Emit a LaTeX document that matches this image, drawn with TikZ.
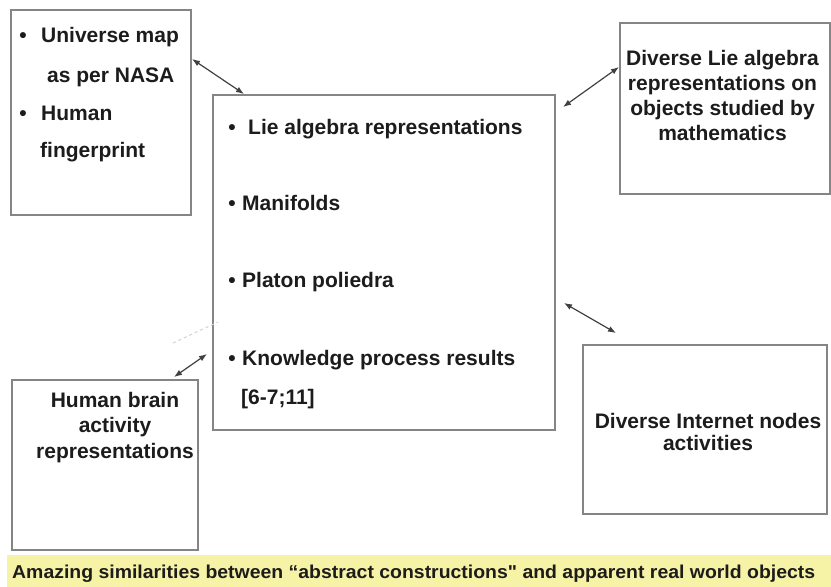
\documentclass[tikz,border=0pt]{standalone}
\usepackage{fontspec}
\setmainfont{Liberation Sans}
\newfontfamily\capfont{Liberation Sans}[Ligatures=TeXOff]
\usetikzlibrary{arrows.meta,positioning,calc}
\definecolor{cbox}{HTML}{858585}
\definecolor{cink}{HTML}{1C1C1C}
\definecolor{cband}{HTML}{F6F2A6}
\tikzset{
  box/.style={draw=cbox, line width=2pt, inner sep=0pt, fill=white},
  txt/.style={font=\fontsize{21}{25}\selectfont\bfseries, text=cink, inner sep=0pt},
  link/.style={{Latex[length=8pt,width=6pt]}-{Latex[length=8pt,width=6pt]}, line width=1.2pt, draw=black!75},
  band/.style={draw=none, fill=cband, inner sep=0pt},
}

\begin{document}
\begin{tikzpicture}[x=1pt,y=-1pt]
\useasboundingbox (0,0) rectangle (831,587);
% boxes
\node[box, minimum width=180pt, minimum height=205pt] (maps) at (101,112.5) {};
\node[box, minimum width=342pt, minimum height=335pt] (core) at (384,262.5) {};
\node[box, minimum width=210pt, minimum height=171pt] (liealg) at (725,108.5) {};
\node[box, minimum width=186pt, minimum height=170pt] (brain) at (105,465) {};
\node[box, minimum width=244pt, minimum height=169pt] (inet) at (705,429.5) {};
% left upper box
\node[txt, anchor=base] (mapsb1) at (23,42) {\textbullet};
\node[txt, anchor=base west] (univ) at (41,42) {Universe map};
\node[txt, anchor=base west] (nasa) at (47,82) {as per NASA};
\node[txt, anchor=base] (mapsb2) at (23,120) {\textbullet};
\node[txt, anchor=base west] (human) at (41,120) {Human};
\node[txt, anchor=base west] (finger) at (40,157) {fingerprint};
% central box
\foreach \n/\y/\x/\t in {lie/134/248/Lie algebra representations, man/210/242/Manifolds,
  pla/287/242/Platon poliedra, kno/365/242/Knowledge process results}{
  \node[txt, anchor=base] (\n-b) at (232,\y) {\textbullet};
  \node[txt, anchor=base west] (\n) at (\x,\y) {\t};
}
\node[txt, anchor=base west] (refs) at (241,404) {[6-7;11]};
% right upper box
\foreach \y/\t [count=\i] in {65/Diverse Lie algebra, 90/representations on, 115/objects studied by, 140/mathematics}
  \node[txt, anchor=base] (liealg-\i) at (722.5,\y) {\t};
% lower boxes
\foreach \y/\t [count=\i] in {407/Human brain, 432/activity, 458/representations}
  \node[txt, anchor=base] (brain-\i) at (115,\y) {\t};
\foreach \y/\t [count=\i] in {428/Diverse Internet nodes, 450/activities}
  \node[txt, anchor=base] (inet-\i) at (708,\y) {\t};
% links
\draw[link] ([yshift=-50pt]maps.north east) -- ([xshift=32pt]core.north west);
\draw[link] ([yshift=-45pt]liealg.north west) -- ([xshift=7pt,yshift=-13pt]core.north east);
\draw[link] ([xshift=8pt,yshift=-40.5pt]core.east) -- ([xshift=34pt,yshift=11pt]inet.north west);
\draw[link] ([xshift=-5pt,yshift=77pt]core.south west) -- ([xshift=-25pt,yshift=2pt]brain.north east);
\draw[gray!35, dashed, line width=1pt] (173,343) -- (218,322);
% caption
\node[band, minimum width=824pt, minimum height=32pt, anchor=north west] (band) at (7,555) {};
\node[txt, anchor=base west] (caption) at (12,578)
  {\resizebox{803pt}{13.5pt}{\capfont\bfseries Amazing similarities between “abstract constructions" and apparent real world objects}};
\end{tikzpicture}
\end{document}
